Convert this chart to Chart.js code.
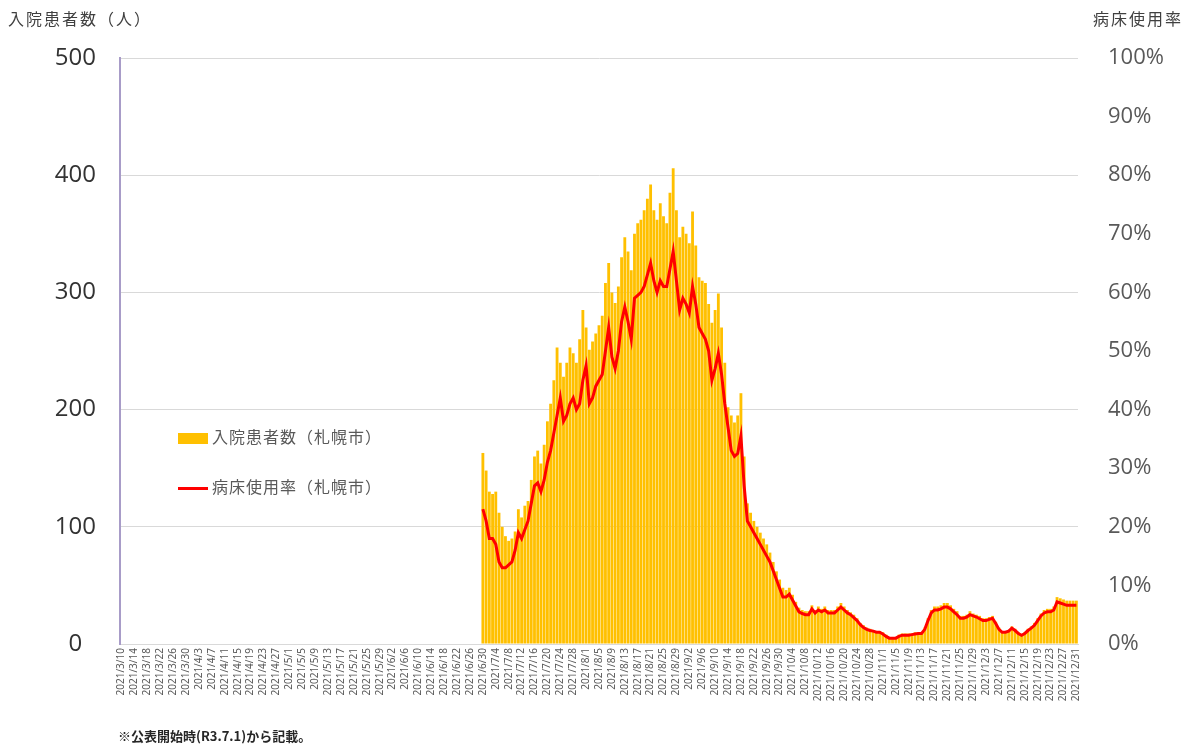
<!DOCTYPE html>
<html lang="ja">
<head>
<meta charset="utf-8">
<title>入院患者数・病床使用率（札幌市）</title>
<script src="https://cdn.jsdelivr.net/npm/chart.js@4.4.1/dist/chart.umd.min.js"></script>
<style>
  html, body { margin: 0; padding: 0; background: #fff; }
  #wrap { position: relative; width: 1201px; height: 749px; overflow: hidden;
          font-family: "Noto Sans CJK JP", "Noto Sans", sans-serif; }
  #chart { position: absolute; left: 0; top: 0; }
  .txt { position: absolute; white-space: nowrap; color: #404040; line-height: 1; }
  .legend { position: absolute; left: 178px; font-size: 16px; letter-spacing: 1px; color: #595959; white-space: nowrap; line-height: 1; }
  .legend .sw { display: inline-block; width: 30px; vertical-align: middle; margin-right: 4px; }
</style>
</head>
<body>
<div id="wrap">
  <canvas id="chart" width="1201" height="749"></canvas>
  <div class="txt" style="left:8px; top:10px; font-size:16px; letter-spacing:2px;">入院患者数（人）</div>
  <div class="txt" style="left:1093px; top:10px; font-size:16px; letter-spacing:2px;">病床使用率</div>
  <div class="legend" style="top:428px;"><span class="sw" style="height:11px; background:#FFC000;"></span>入院患者数（札幌市）</div>
  <div class="legend" style="top:478px;"><span class="sw" style="height:3px; background:#FF0000;"></span>病床使用率（札幌市）</div>
  <div class="txt" style="left:118px; top:729px; font-size:13px; font-weight:bold; color:#262626;">※公表開始時(R3.7.1)から記載。</div>
</div>
<script>
/* ---------- data (daily, from 2021/6/30) ---------- */
const AXIS_FIRST = [2021, 3, 10];     // first category on the x axis
const AXIS_LAST  = [2021, 12, 31];    // last category
const DATA_FIRST = [2021, 6, 30];     // first day with published values

// 入院患者数（札幌市）, persons
const patients = [
  163,148,130,128,130,112,100,92,88,90,
  96,115,108,118,122,140,160,165,154,170,
  190,205,225,253,240,228,240,253,248,240,
  260,285,270,251,258,265,272,280,308,325,
  300,291,305,330,347,335,319,350,359,362,
  370,380,392,370,362,376,365,359,385,406,
  370,347,356,350,342,369,340,313,310,308,
  290,274,285,299,270,240,202,195,189,195,
  214,160,120,112,105,100,95,90,85,78,
  70,62,55,48,46,48,42,36,31,29,
  28,28,33,29,32,30,32,29,29,29,
  32,35,32,29,27,25,22,18,16,14,
  13,12,11,11,10,8,6,6,6,8,
  9,9,9,9,10,10,10,14,22,29,
  32,32,33,35,35,33,30,28,24,24,
  25,28,26,25,24,22,22,23,24,19,
  14,11,11,12,15,13,10,8,10,13,
  15,18,22,26,29,30,30,32,40,39,
  38,37,37,37,37
];

// 病床使用率（札幌市）, %
const bedRate = [
  23,21,18,18,17,14,13,13,13.5,14,
  16,19,18,19.5,21,24,27,27.5,26,28,
  31,33,36,39,42,38,39,41,42,40,
  41,45,47.5,41,42,44,45,46,50,54,
  49,47,50,55,57.5,55,52,59,59.5,60,
  61,63,65,62,60,62,61,61,64,67,
  62,57,59,58,56.5,61,58,54,53,52,
  50,45,47,49.6,46,41,37,33,32,32.5,
  35.5,27,21,20,19,18,17,16,15,14,
  12.5,11,9.5,8,8,8.5,7.5,6.5,5.5,5.2,
  5,5,6,5.3,5.8,5.5,5.8,5.3,5.3,5.3,
  5.8,6.3,5.8,5.3,5,4.5,4,3.3,2.8,2.5,
  2.3,2.2,2,2,1.7,1.3,1,1,1,1.3,
  1.5,1.5,1.5,1.6,1.7,1.8,1.8,2.5,4,5.3,
  5.8,5.8,6,6.3,6.3,6,5.5,5,4.4,4.4,
  4.6,5,4.8,4.6,4.3,4,4,4.2,4.4,3.5,
  2.5,2,2,2.2,2.7,2.3,1.8,1.5,1.8,2.3,
  2.7,3.2,4,4.8,5.3,5.5,5.5,5.8,7.2,7,
  6.8,6.6,6.6,6.6,6.6
];

/* ---------- categories ---------- */
const labels = [];
let firstIdx = 0;
{
  const d = new Date(AXIS_FIRST[0], AXIS_FIRST[1] - 1, AXIS_FIRST[2]);
  const end = new Date(AXIS_LAST[0], AXIS_LAST[1] - 1, AXIS_LAST[2]);
  const start = new Date(DATA_FIRST[0], DATA_FIRST[1] - 1, DATA_FIRST[2]);
  while (d <= end) {
    if (d.getTime() === start.getTime()) firstIdx = labels.length;
    labels.push(d.getFullYear() + '/' + (d.getMonth() + 1) + '/' + d.getDate());
    d.setDate(d.getDate() + 1);
  }
}
const pad = (arr) => labels.map((_, i) => (i >= firstIdx && i - firstIdx < arr.length) ? arr[i - firstIdx] : null);

/* ---------- chart ---------- */
new Chart(document.getElementById('chart'), {
  data: {
    labels,
    datasets: [
      { type: 'line', label: '病床使用率（札幌市）', data: pad(bedRate), yAxisID: 'y1',
        borderColor: '#FF0000', borderWidth: 3, pointRadius: 0, tension: 0, order: 0, spanGaps: false },
      { type: 'bar', label: '入院患者数（札幌市）', data: pad(patients), yAxisID: 'y',
        backgroundColor: '#FFC000', borderWidth: 0, categoryPercentage: 0.88, barPercentage: 1, order: 1 }
    ]
  },
  options: {
    responsive: false, animation: false,
    layout: { padding: { top: 58, left: 0, right: 0, bottom: 0 } },
    plugins: { legend: { display: false }, tooltip: { enabled: false } },
    scales: {
      x: {
        offset: true,
        grid: { display: false, drawTicks: false },
        border: { color: '#d9d9d9' },
        ticks: {
          autoSkip: false, minRotation: 90, maxRotation: 90, padding: 4,
          color: '#595959', font: { family: 'Noto Sans', size: 10 },
          callback: (v, i) => (i % 4 === 0 ? labels[i] : null)
        },
        afterFit: (s) => { s.height = 105; }
      },
      y: {
        position: 'left', min: 0, max: 500,
        grid: { color: '#d9d9d9', drawTicks: false },
        border: { color: '#a89cc8', width: 2 },
        ticks: { stepSize: 100, padding: 24, crossAlign: 'center', color: '#333333',
                 font: { family: 'Open Sans', size: 24 } },
        afterFit: (s) => { s.width = 120; }
      },
      y1: {
        position: 'right', min: 0, max: 100,
        grid: { display: false, drawTicks: false },
        border: { display: false },
        ticks: { stepSize: 10, padding: 30, color: '#595959',
                 font: { family: 'Open Sans', size: 22 }, callback: (v) => v + '%' },
        afterFit: (s) => { s.width = 123; }
      }
    }
  }
});
</script>
</body>
</html>
